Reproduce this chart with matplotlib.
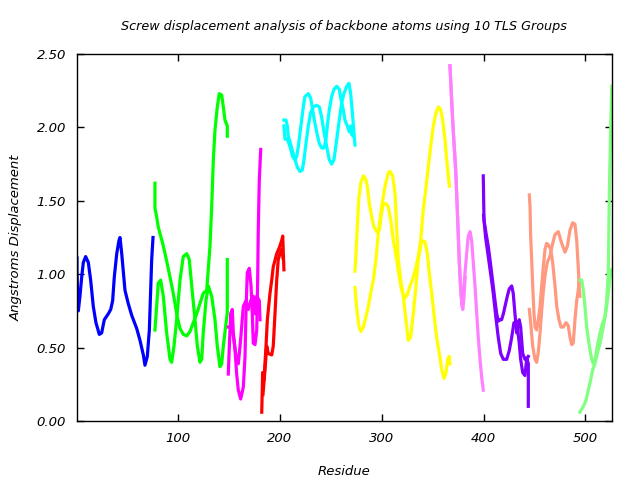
import matplotlib
matplotlib.use('Agg')
import matplotlib.pyplot as plt

# TLS group 1 (blue)
blue_res = [1, 1, 1.5, 2.3, 3.9, 5.6, 7.2, 9.5, 12.1, 14.4, 17.0, 19.6, 22.9, 25.2, 27.8, 31.7, 34.1, 36.0,
            37.6, 40.0, 42.2, 43.2, 44.9, 48.1, 51.3, 54.7, 59.6, 62.8, 66.1, 67.7, 70.0, 72.0, 74.3, 75.6]
blue_val = [1.11, 1.03, 0.89, 0.75, 0.85, 0.98, 1.08, 1.12, 1.08, 0.96, 0.78, 0.67, 0.59, 0.60, 0.69, 0.73, 0.76, 0.82,
            0.98, 1.14, 1.23, 1.25, 1.14, 0.89, 0.80, 0.72, 0.63, 0.55, 0.45, 0.38, 0.44, 0.62, 1.10, 1.25]

# TLS group 2 (green)
green_res_a = [77.5, 77.5, 79.2, 80.8, 83.1, 85.1, 87.4, 89.6, 92.3, 94.9, 97.2, 99.4, 102.1, 105.3, 108.7, 111.9,
               115.1, 118.5, 121.7, 124.9, 128.3, 131.5, 133.2, 134.8, 136.4, 138.7, 140.6, 143.0, 144.6, 146.2,
               148.5, 148.5]
green_val_a = [1.62, 1.45, 1.39, 1.32, 1.26, 1.21, 1.14, 1.07, 0.98, 0.89, 0.80, 0.71, 0.63, 0.59, 0.58, 0.61,
               0.67, 0.73, 0.80, 0.87, 0.89, 1.19, 1.46, 1.78, 1.98, 2.14, 2.23, 2.22, 2.14, 2.05,
               2.01, 1.94]
green_res_b = [77.5, 80.8, 83.1, 85.7, 89.0, 92.3, 93.9, 96.2, 98.8, 102.1, 105.3, 108.7, 111.2, 113.6, 116.8,
               119.1, 121.7, 123.4, 124.9, 127.6, 129.9, 133.2, 136.4, 138.7, 141.3, 143.0, 144.6, 148.5, 148.5]
green_val_b = [0.62, 0.94, 0.96, 0.85, 0.60, 0.42, 0.40, 0.51, 0.69, 0.96, 1.12, 1.14, 1.10, 0.92, 0.69,
               0.51, 0.40, 0.42, 0.60, 0.82, 0.92, 0.85, 0.69, 0.51, 0.37, 0.39, 0.51, 0.74, 1.10]

# TLS group 3 (magenta)
magenta_res_a = [149.5, 150.5, 151.8, 153.4, 154.4, 156.1, 157.7, 159.3, 161.6, 164.2, 165.9, 166.8, 168.1,
                 170.1, 171.8, 173.0, 174.0, 175.7, 177.4, 178.3, 178.9, 179.9, 181.3]
magenta_val_a = [0.32, 0.51, 0.73, 0.76, 0.60, 0.48, 0.32, 0.21, 0.15, 0.23, 0.44, 0.73, 1.01,
                 1.04, 0.92, 0.73, 0.53, 0.52, 0.62, 0.96, 1.30, 1.64, 1.85]
magenta_res_b = [149.5, 152.8, 155.1, 157.1, 159.3, 161.0, 162.6, 164.2, 166.8, 169.1, 171.5, 174.0, 175.7,
                 177.4, 179.9, 180.6]
magenta_val_b = [0.64, 0.64, 0.55, 0.44, 0.39, 0.51, 0.64, 0.78, 0.82, 0.76, 0.82, 0.85, 0.73,
                 0.85, 0.82, 0.69]

# TLS group 4 (red)
red_res_a = [182.3, 183.2, 184.5, 186.5, 187.8, 190.4, 192.1, 193.6, 197.0, 199.5, 201.9, 202.9, 203.5, 204.1]
red_val_a = [0.06, 0.33, 0.28, 0.51, 0.69, 0.87, 0.96, 1.05, 1.14, 1.18, 1.23, 1.26, 1.14, 1.03]
red_res_b = [183.5, 185.5, 187.2, 188.7, 192.1, 193.6, 195.3, 197.0, 198.5, 200.2, 201.9, 203.2]
red_val_b = [0.18, 0.35, 0.51, 0.46, 0.45, 0.51, 0.73, 0.96, 1.10, 1.14, 1.17, 1.11]

# TLS group 5 (cyan)
cyan_res_a = [204.1, 206.1, 207.4, 208.4, 210.0, 211.7, 213.3, 214.9, 216.6, 218.2, 219.8, 221.5, 223.1, 224.7,
              228.0, 230.3, 232.3, 233.9, 236.2, 238.8, 241.1, 243.4, 245.4, 246.6, 248.6, 250.9, 253.2, 255.9,
              258.4, 260.1, 262.3, 264.0, 266.3, 268.2, 269.6, 270.6, 272.2]
cyan_val_a = [2.05, 2.05, 2.01, 1.94, 1.90, 1.86, 1.82, 1.78, 1.80, 1.87, 1.96, 2.05, 2.14, 2.21,
              2.23, 2.20, 2.12, 2.05, 1.97, 1.89, 1.86, 1.86, 1.92, 2.01, 2.12, 2.21, 2.26, 2.28,
              2.26, 2.19, 2.12, 2.05, 2.01, 1.97, 2.01, 1.95, 1.94]
cyan_res_b = [204.1, 205.1, 207.4, 210.0, 212.7, 214.9, 217.2, 219.8, 222.1, 223.8, 225.7, 228.0, 230.3, 232.9,
              236.2, 238.8, 241.1, 243.4, 246.0, 248.6, 250.9, 253.2, 255.9, 258.4, 260.8, 263.0, 265.7, 267.9,
              269.6, 271.6, 272.8, 273.8]
cyan_val_b = [2.01, 1.92, 1.92, 1.87, 1.80, 1.78, 1.73, 1.70, 1.71, 1.78, 1.89, 2.01, 2.10, 2.14,
              2.15, 2.14, 2.07, 1.97, 1.87, 1.78, 1.75, 1.78, 1.92, 2.05, 2.17, 2.23, 2.28, 2.30,
              2.23, 2.07, 1.96, 1.88]

# TLS group 6 (yellow)
yellow_res_a = [273.8, 274.8, 276.1, 277.5, 279.4, 282.0, 284.3, 285.9, 287.9, 290.2, 292.5, 295.1, 297.7, 300.0,
                301.6, 304.2, 306.5, 308.9, 311.4, 314.7, 317.3, 319.6, 322.9, 325.1, 327.8, 331.0, 333.7, 335.9,
                338.3, 340.8, 343.5, 345.7, 348.1, 350.7, 353.3, 355.6, 357.9, 359.9, 362.1, 363.8, 365.4, 366.4]
yellow_val_a = [1.02, 1.14, 1.32, 1.51, 1.62, 1.67, 1.65, 1.60, 1.48, 1.39, 1.32, 1.29, 1.30, 1.42,
                1.48, 1.48, 1.46, 1.37, 1.23, 1.10, 0.98, 0.89, 0.84, 0.86, 0.92, 0.98, 1.05, 1.12,
                1.23, 1.44, 1.59, 1.73, 1.87, 2.01, 2.10, 2.14, 2.12, 2.05, 1.92, 1.78, 1.67, 1.60]
yellow_res_b = [273.8, 274.8, 276.1, 277.9, 279.6, 282.0, 284.6, 286.9, 289.2, 291.8, 294.4, 296.7, 300.0, 303.3,
                306.5, 308.2, 310.8, 313.1, 314.7, 316.3, 318.7, 321.2, 323.8, 326.1, 328.4, 331.0, 333.7, 335.9,
                339.3, 342.5, 344.8, 346.7, 349.1, 351.3, 353.9, 356.6, 358.9, 361.2, 363.2, 364.8, 366.4, 367.0]
yellow_val_b = [0.91, 0.82, 0.73, 0.64, 0.61, 0.64, 0.71, 0.78, 0.87, 0.96, 1.10, 1.28, 1.46, 1.60,
                1.69, 1.70, 1.67, 1.55, 1.32, 1.10, 0.96, 0.85, 0.69, 0.55, 0.57, 0.73, 0.92, 1.10,
                1.23, 1.22, 1.14, 1.01, 0.87, 0.73, 0.57, 0.46, 0.35, 0.29, 0.33, 0.42, 0.44, 0.39]

# TLS group 7 (pink)
pink_res_a = [367.0, 368.0, 369.7, 371.0, 372.6, 373.6, 374.6, 375.6, 376.9, 377.8, 379.1, 380.1, 381.8, 383.4,
              385.0, 386.7, 388.3, 389.9, 391.6, 393.3, 394.8, 396.5, 398.1, 399.7]
pink_val_a = [2.42, 2.28, 2.05, 1.89, 1.73, 1.55, 1.37, 1.17, 0.98, 0.87, 0.78, 0.87, 1.01, 1.14,
              1.26, 1.29, 1.23, 1.08, 0.92, 0.73, 0.57, 0.42, 0.30, 0.21]
pink_res_b = [367.0, 367.5, 368.5, 370.2, 371.8, 373.2, 374.2, 375.2, 376.2, 377.4, 378.6, 379.6, 380.6, 382.0]
pink_val_b = [2.42, 2.36, 2.20, 1.98, 1.80, 1.62, 1.45, 1.28, 1.08, 0.92, 0.80, 0.76, 0.83, 0.98]

# TLS group 8 (purple)
purple_res_a = [399.7, 400.4, 402.4, 404.6, 406.3, 407.9, 409.5, 411.2, 412.9, 414.4, 416.1, 417.7, 419.4, 421.0,
                423.3, 425.2, 427.6, 429.1, 430.8, 432.5, 434.0, 435.0, 436.4, 438.4, 440.6, 442.3, 443.9, 443.9]
purple_val_a = [1.67, 1.37, 1.28, 1.19, 1.10, 1.01, 0.92, 0.82, 0.73, 0.68, 0.69, 0.69, 0.73, 0.78,
                0.85, 0.90, 0.92, 0.87, 0.73, 0.60, 0.67, 0.69, 0.64, 0.46, 0.42, 0.43, 0.39, 0.10]
purple_res_b = [400.0, 402.0, 404.6, 407.0, 409.5, 412.0, 414.4, 416.8, 419.4, 422.7, 425.2, 427.6, 429.8, 431.8,
                433.1, 435.0, 436.4, 438.4, 440.6, 442.3, 443.9]
purple_val_b = [1.40, 1.25, 1.12, 1.00, 0.87, 0.71, 0.57, 0.46, 0.42, 0.42, 0.48, 0.57, 0.67, 0.67,
                0.64, 0.53, 0.42, 0.33, 0.31, 0.42, 0.44]

# TLS group 9 (salmon)
salmon_res_a = [444.9, 445.6, 446.2, 447.2, 448.2, 449.5, 450.5, 452.1, 453.7, 455.4, 457.0, 458.6, 460.3, 461.9,
                463.5, 465.9, 467.8, 470.1, 471.8, 474.0, 476.0, 478.2, 480.9, 483.1, 484.8, 486.5, 488.0, 489.7,
                491.4, 492.9, 493.9]
salmon_val_a = [1.54, 1.46, 1.26, 1.10, 0.92, 0.73, 0.64, 0.62, 0.69, 0.78, 0.92, 1.05, 1.17, 1.21,
                1.20, 1.17, 1.08, 0.92, 0.78, 0.69, 0.64, 0.64, 0.67, 0.65, 0.57, 0.52, 0.53, 0.69,
                0.82, 0.89, 0.96]
salmon_res_b = [444.9, 446.2, 448.2, 450.5, 452.1, 453.7, 455.4, 457.0, 458.6, 460.3, 462.5, 465.0, 467.5, 470.1,
                473.3, 476.7, 479.9, 482.2, 484.8, 487.4, 489.7, 491.4, 492.9, 493.9, 494.6]
salmon_val_b = [0.76, 0.67, 0.51, 0.42, 0.40, 0.47, 0.60, 0.75, 0.88, 0.99, 1.08, 1.12, 1.20, 1.27,
                1.29, 1.21, 1.15, 1.19, 1.30, 1.35, 1.34, 1.23, 1.05, 0.90, 0.85]

# TLS group 10 (light green)
lgreen_res_a = [494.6, 497.9, 500.5, 502.7, 505.1, 507.1, 509.3, 511.6, 514.3, 516.9, 519.2, 520.8, 522.4, 523.4,
                524.8, 525.8]
lgreen_val_a = [0.06, 0.10, 0.14, 0.21, 0.28, 0.35, 0.39, 0.46, 0.53, 0.62, 0.71, 0.82, 1.01, 1.55,
                2.01, 2.28]
lgreen_res_b = [494.6, 496.3, 497.9, 499.5, 501.2, 503.8, 506.1, 507.7, 509.3, 511.6, 514.3, 516.9, 519.2, 520.8,
                522.4, 524.1, 525.8]
lgreen_val_b = [0.96, 0.96, 0.89, 0.78, 0.64, 0.51, 0.42, 0.39, 0.42, 0.51, 0.60, 0.67, 0.71, 0.78,
                0.87, 0.98, 1.03]

y_ticks = [0, 0.5, 1.0, 1.5, 2.0, 2.5]
x_ticks = [100, 200, 300, 400, 500]

groups = [
    ('#0000ff', [(blue_res, blue_val)]),
    ('#00ff00', [(green_res_a, green_val_a), (green_res_b, green_val_b)]),
    ('#ff00ff', [(magenta_res_a, magenta_val_a), (magenta_res_b, magenta_val_b)]),
    ('#ff0000', [(red_res_a, red_val_a), (red_res_b, red_val_b)]),
    ('#00ffff', [(cyan_res_a, cyan_val_a), (cyan_res_b, cyan_val_b)]),
    ('#ffff00', [(yellow_res_a, yellow_val_a), (yellow_res_b, yellow_val_b)]),
    ('#ff80ff', [(pink_res_a, pink_val_a), (pink_res_b, pink_val_b)]),
    ('#8000ff', [(purple_res_a, purple_val_a), (purple_res_b, purple_val_b)]),
    ('#ff9980', [(salmon_res_a, salmon_val_a), (salmon_res_b, salmon_val_b)]),
    ('#80ff80', [(lgreen_res_a, lgreen_val_a), (lgreen_res_b, lgreen_val_b)]),
]

fig = plt.figure(figsize=(6.4, 4.8), dpi=100)
ax = fig.add_axes([0.1203, 0.1229, 0.8359, 0.7646])

for color, strands in groups:
    for xs, ys in strands:
        ax.plot(xs, ys, color=color, linewidth=2.3)

ax.set_xlim(1, 526)
ax.set_ylim(0, 2.5)
ax.set_xticks(x_ticks)
ax.set_yticks(y_ticks)
ax.set_yticklabels(['%.2f' % v for v in y_ticks])
ax.tick_params(direction='in', length=5, width=1, top=True, right=True, labelsize=9.5, pad=8)
for lab in ax.get_xticklabels() + ax.get_yticklabels():
    lab.set_fontstyle('italic')
for s in ax.spines.values():
    s.set_linewidth(1)

fig.text(0.538, 0.944, 'Screw displacement analysis of backbone atoms using 10 TLS Groups',
         ha='center', va='center', fontsize=9.2, style='italic')
ax.set_xlabel('Residue', fontsize=9.5, style='italic', labelpad=14)
ax.set_ylabel('Angstroms Displacement', fontsize=9.5, style='italic', labelpad=10)

fig.savefig('out.png', dpi=100)
